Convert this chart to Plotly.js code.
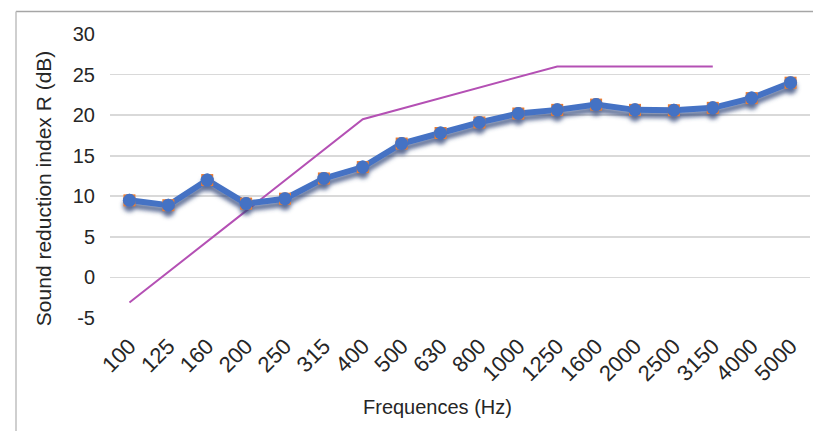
<!DOCTYPE html>
<html>
<head>
<meta charset="utf-8">
<script src="https://cdn.plot.ly/plotly-3.0.1.min.js"></script>
<style>
  html, body { margin: 0; padding: 0; background: #ffffff; }
  #chart { width: 813px; height: 431px; }
</style>
</head>
<body>
<div id="chart"></div>
<script>
// Data
const frequencies = ['100','125','160','200','250','315','400','500','630','800','1000','1250','1600','2000','2500','3150','4000','5000'];
const reductionIndex = [9.5, 8.9, 12.0, 9.1, 9.7, 12.2, 13.6, 16.5, 17.8, 19.1, 20.2, 20.65, 21.3, 20.65, 20.6, 20.9, 22.1, 24.0];
const referenceFreq = ['100', '400', '1250', '3150'];
const referenceValues = [-3.1, 19.5, 26.0, 26.0];
const yTicks = [-5, 0, 5, 10, 15, 20, 25, 30];

const FONT = 'Liberation Sans, Arial, sans-serif';
const TXT = '#262626';

const traces = [
  { // reference curve
    x: referenceFreq, y: referenceValues, type: 'scatter', mode: 'lines',
    line: { color: '#B450B4', width: 2 },
    showlegend: false
  },
  { // main blue series line (gets a drop shadow)
    x: frequencies, y: reductionIndex, type: 'scatter', mode: 'lines+markers',
    line: { color: '#4472C4', width: 6 },
    marker: { symbol: 'circle', size: 13, color: '#4472C4' },
    showlegend: false
  },
  { // orange square markers
    x: frequencies, y: reductionIndex, type: 'scatter', mode: 'markers',
    marker: { symbol: 'square', size: 12, color: '#ED7D31' },
    showlegend: false
  },
  { // blue circle markers on top
    x: frequencies, y: reductionIndex, type: 'scatter', mode: 'markers',
    marker: { symbol: 'circle', size: 13, color: '#4472C4' },
    showlegend: false
  }
];

const layout = {
  width: 813, height: 431,
  margin: { l: 110, r: 3, t: 34, b: 113, pad: 0 },
  paper_bgcolor: '#ffffff', plot_bgcolor: '#ffffff',
  font: { family: FONT, size: 20, color: TXT },
  showlegend: false,
  xaxis: {
    type: 'category', categoryorder: 'array', categoryarray: frequencies,
    range: [-0.5, 17.5], showgrid: false, zeroline: false, showline: false,
    ticks: '', tickangle: -45, ticklabelstandoff: 10,
    tickfont: { family: FONT, size: 22, color: TXT }
  },
  yaxis: {
    range: [-5, 30], tickvals: yTicks, ticktext: yTicks.map(String),
    showgrid: true, gridcolor: '#D9D9D9', gridwidth: 1.6,
    zeroline: false, showline: false, ticks: '', ticklabelstandoff: 14,
    tickfont: { family: FONT, size: 20, color: TXT }
  },
  annotations: [
    { text: 'Sound reduction index R (dB)', textangle: -90, showarrow: false,
      xref: 'paper', yref: 'paper', x: (43 - 110) / 700, y: (317.7 - 188) / 283.7,
      xanchor: 'center', yanchor: 'middle',
      font: { family: FONT, size: 21, color: TXT } },
    { text: 'Frequences (Hz)', showarrow: false,
      xref: 'paper', yref: 'paper', x: (437 - 110) / 700, y: (317.7 - 407) / 283.7,
      xanchor: 'center', yanchor: 'middle',
      font: { family: FONT, size: 20, color: TXT } }
  ],
  shapes: [
    { type: 'line', xref: 'paper', yref: 'paper', layer: 'below',
      x0: (16 - 110) / 700, x1: (813 - 110) / 700, y0: (317.7 - 11.5) / 283.7, y1: (317.7 - 11.5) / 283.7,
      line: { color: '#A6A6A6', width: 1.5 } },
    { type: 'line', xref: 'paper', yref: 'paper', layer: 'below',
      x0: (16 - 110) / 700, x1: (16 - 110) / 700, y0: (317.7 - 11.5) / 283.7, y1: (317.7 - 431) / 283.7,
      line: { color: '#BFBFBF', width: 1.5 } }
  ]
};

Plotly.newPlot('chart', traces, layout, { displayModeBar: false, staticPlot: true }).then(function (gd) {
  const svg = gd.querySelector('svg.main-svg');
  const ns = 'http://www.w3.org/2000/svg';
  let defs = svg.querySelector('defs');
  if (!defs) { defs = document.createElementNS(ns, 'defs'); svg.insertBefore(defs, svg.firstChild); }
  const filter = document.createElementNS(ns, 'filter');
  filter.setAttribute('id', 'dropShadow');
  filter.setAttribute('x', '-10%'); filter.setAttribute('y', '-20%');
  filter.setAttribute('width', '120%'); filter.setAttribute('height', '150%');
  filter.innerHTML =
    '<feGaussianBlur in="SourceAlpha" stdDeviation="2.2" result="b"/>' +
    '<feOffset in="b" dx="0" dy="5" result="o"/>' +
    '<feFlood flood-color="rgb(55,75,125)" flood-opacity="0.8" result="f"/>' +
    '<feComposite in="f" in2="o" operator="in" result="s"/>' +
    '<feMerge><feMergeNode in="s"/><feMergeNode in="SourceGraphic"/></feMerge>';
  defs.appendChild(filter);
  const tracesG = gd.querySelectorAll('.scatterlayer .trace');
  if (tracesG.length > 1) tracesG[1].setAttribute('filter', 'url(#dropShadow)');
});
</script>
</body>
</html>
